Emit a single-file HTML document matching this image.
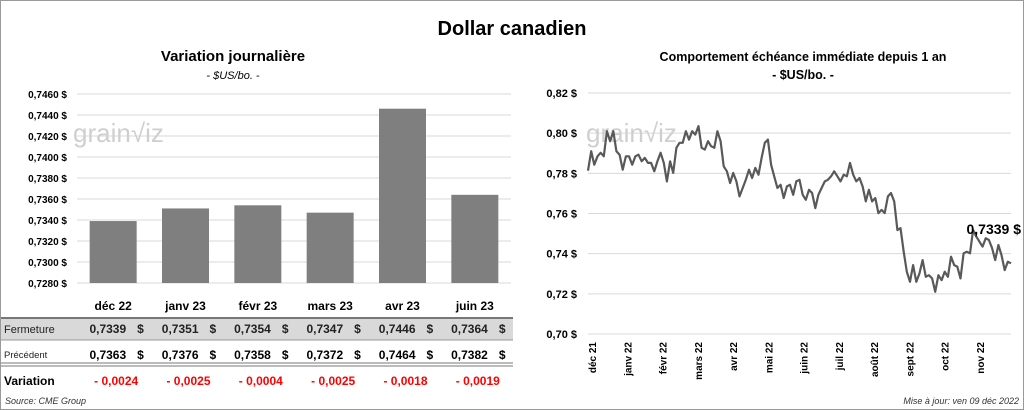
<!DOCTYPE html>
<html><head><meta charset="utf-8"><style>
body{margin:0;background:#fff;font-family:"Liberation Sans",sans-serif}
#wrap{position:relative;width:1022px;height:408px;border:1px solid #9a9a9a;overflow:hidden}
svg text{font-family:"Liberation Sans",sans-serif}
</style></head><body>
<div id="wrap">
<svg id="s" width="1022" height="408" xmlns="http://www.w3.org/2000/svg">
<text x="511" y="34" text-anchor="middle" font-size="20" font-weight="bold">Dollar canadien</text>
<text x="232" y="60" text-anchor="middle" font-size="15" font-weight="bold">Variation  journalière</text>
<text x="232" y="78" text-anchor="middle" font-size="11" font-style="italic">- $US/bo. -</text>
<text x="802" y="60" text-anchor="middle" font-size="12.5" font-weight="bold">Comportement échéance immédiate depuis 1 an</text>
<text x="802" y="78" text-anchor="middle" font-size="12.5" font-weight="bold">- $US/bo. -</text>
<g id="left"></g>
<g id="table"></g>
<g id="right"></g>
<text x="4" y="403" font-size="9" font-style="italic" fill="#333">Source: CME Group</text>
<text x="1018" y="403" text-anchor="end" font-size="9" font-style="italic" fill="#333">Mise à jour: ven 09 déc 2022</text>
</svg></div>
<script>
const barCats=["déc 22","janv 23","févr 23","mars 23","avr 23","juin 23"];
const closeVals=[0.7339,0.7351,0.7354,0.7347,0.7446,0.7364];
const prevVals=[0.7363,0.7376,0.7358,0.7372,0.7464,0.7382];
const changeVals=[-0.0024,-0.0025,-0.0004,-0.0025,-0.0018,-0.0019];
const leftTicks=[0.7280,0.7300,0.7320,0.7340,0.7360,0.7380,0.7400,0.7420,0.7440,0.7460];
const lineVals=[0.7813,0.7910,0.7843,0.7885,0.7902,0.7885,0.8010,0.7960,0.8010,0.7910,0.7893,0.7818,0.7885,0.7885,0.7843,0.7885,0.7893,0.7860,0.7877,0.7852,0.7852,0.7810,0.7860,0.7902,0.7852,0.7760,0.7860,0.7802,0.7927,0.7952,0.7952,0.8010,0.7968,0.8010,0.7993,0.8035,0.7927,0.7918,0.7960,0.7935,0.7927,0.8010,0.7960,0.7835,0.7810,0.7752,0.7802,0.7760,0.7685,0.7727,0.7768,0.7818,0.7777,0.7827,0.7793,0.7877,0.7952,0.7968,0.7843,0.7785,0.7727,0.7743,0.7677,0.7735,0.7743,0.7693,0.7760,0.7768,0.7693,0.7668,0.7718,0.7702,0.7627,0.7693,0.7727,0.7760,0.7768,0.7785,0.7810,0.7785,0.7760,0.7793,0.7785,0.7852,0.7793,0.7760,0.7777,0.7735,0.7660,0.7718,0.7660,0.7677,0.7602,0.7618,0.7602,0.7685,0.7702,0.7660,0.7518,0.7527,0.7410,0.7310,0.7260,0.7343,0.7260,0.7302,0.7368,0.7285,0.7293,0.7277,0.7210,0.7293,0.7268,0.7310,0.7285,0.7385,0.7343,0.7335,0.7277,0.7402,0.7410,0.7402,0.7518,0.7485,0.7460,0.7435,0.7477,0.7468,0.7427,0.7368,0.7443,0.7393,0.7318,0.7360,0.7352];
const lineTicks=[0.70,0.72,0.74,0.76,0.78,0.80,0.82];
const months=["déc 21","janv 22","févr 22","mars 22","avr 22","mai 22","juin 22","juil 22","août 22","sept 22","oct 22","nov 22"];
const lastLabel="0,7339 $";
const NS="http://www.w3.org/2000/svg";
function mk(p,t,a,txt){const e=document.createElementNS(NS,t);for(const k in a)e.setAttribute(k,a[k]);if(txt!==undefined)e.textContent=txt;p.appendChild(e);return e;}
const fmt=(v,d)=>v.toFixed(d).replace('.',',');
const L=document.getElementById('left');
const ly=v=>282-(v-0.7280)/0.0180*189;
const lx0=76,lx1=510,bw=(lx1-lx0)/barCats.length;
leftTicks.forEach(t=>{
 const g=mk(L,'line',{x1:lx0,x2:lx1,y1:ly(t),y2:ly(t),stroke:'#d9d9d9','stroke-width':1});
 
 const tx=mk(L,'text',{x:66,y:ly(t)+4,'text-anchor':'end','font-size':10,'font-weight':'bold'},fmt(t,4)+' $');
 
});
mk(L,'text',{x:72,y:141,'font-size':26,fill:'#cfcfcf'},'grain\u221Aiz');
closeVals.forEach((v,i)=>{
 const cx=lx0+bw*(i+0.5);
 const r=mk(L,'rect',{x:cx-23.5,y:ly(v),width:47,height:ly(0.7280)-ly(v),fill:'#7f7f7f'});
 
});
const T=document.getElementById('table');
mk(T,'rect',{x:0,y:317,width:512,height:22,fill:'#d9d9d9'});
mk(T,'line',{x1:0,x2:512,y1:317,y2:317,stroke:'#777','stroke-width':2});
mk(T,'line',{x1:0,x2:512,y1:339,y2:339,stroke:'#999','stroke-width':1});
mk(T,'line',{x1:0,x2:512,y1:362,y2:362,stroke:'#777','stroke-width':1});
mk(T,'line',{x1:0,x2:512,y1:365,y2:365,stroke:'#777','stroke-width':1});
mk(T,'text',{x:3,y:332,'font-size':11,fill:'#222'},'Fermeture');
mk(T,'text',{x:3,y:357,'font-size':9.5,fill:'#222'},'Précédent');
mk(T,'text',{x:3,y:384,'font-size':12,'font-weight':'bold'},'Variation');
barCats.forEach((c,i)=>{
 const cx=lx0+bw*(i+0.5);
 const h=mk(T,'text',{x:cx,y:309,'text-anchor':'middle','font-size':12,'font-weight':'bold'},c);
 
 mk(T,'text',{x:cx+13,y:332,'text-anchor':'end','font-size':12,'font-weight':'bold',fill:'#222'},fmt(closeVals[i],4));
 mk(T,'text',{x:cx+24,y:332,'font-size':12,'font-weight':'bold',fill:'#222'},'$');
 mk(T,'text',{x:cx+13,y:358,'text-anchor':'end','font-size':12,'font-weight':'bold'},fmt(prevVals[i],4));
 mk(T,'text',{x:cx+24,y:358,'font-size':12,'font-weight':'bold'},'$');
 const d=changeVals[i];
 mk(T,'text',{x:cx+3,y:384,'text-anchor':'middle','font-size':12,'font-weight':'bold',fill:'#ff0000'},(d<0?'- ':'')+fmt(Math.abs(d),4));
});
const R=document.getElementById('right');
const ry=v=>333-(v-0.70)/0.12*241;
const rx0=587,rx1=1010;
lineTicks.forEach(t=>{
 const g=mk(R,'line',{x1:rx0,x2:rx1,y1:ry(t),y2:ry(t),stroke:'#d9d9d9','stroke-width':1});
 
 const tx=mk(R,'text',{x:576,y:ry(t)+4,'text-anchor':'end','font-size':11,'font-weight':'bold'},fmt(t,2)+' $');
 
});
mk(R,'text',{x:585,y:141,'font-size':26,fill:'#cfcfcf'},'grain\u221Aiz');
const xs=i=>rx0+(rx1-rx0)*i/(lineVals.length-1);
const p=mk(R,'path',{d:lineVals.map((v,i)=>(i?'L':'M')+xs(i).toFixed(1)+','+ry(v).toFixed(1)).join(''),fill:'none',stroke:'#595959','stroke-width':2.2,'stroke-linejoin':'round'});

const lb=mk(R,'text',{x:1020,y:233,'text-anchor':'end','font-size':14,'font-weight':'bold'},lastLabel);

const mStep=(rx1-rx0)/12;
months.forEach((m,i)=>{
 const x=rx0+4+mStep*i;
 const t=mk(R,'text',{transform:`translate(${x+4},341) rotate(-90)`,'text-anchor':'end','font-size':10,'font-weight':'bold'},m);
 
});
</script>
</body></html>
